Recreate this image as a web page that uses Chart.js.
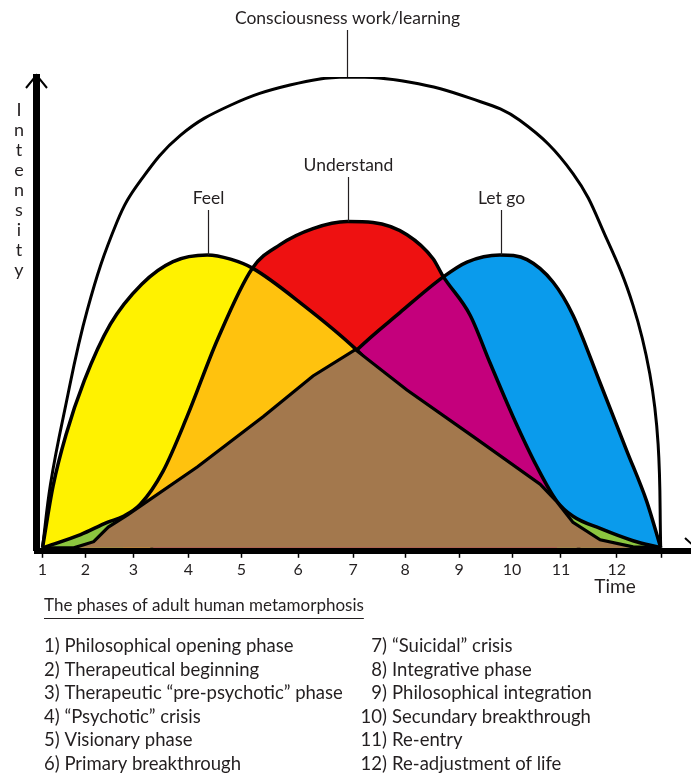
<!DOCTYPE html>
<html>
<head>
<meta charset="utf-8">
<script src="https://cdn.jsdelivr.net/npm/chart.js@4"></script>
<style>
  html, body { margin: 0; padding: 0; background: #fff; }
  canvas { display: block; }
</style>
</head>
<body>
<canvas id="chart" width="691" height="774"></canvas>
<script>
// x ticks (time phases) and where they sit on the time axis
const xTickPos = [1, 1.823, 2.741, 3.793, 4.807, 5.898, 6.950, 7.945, 8.978, 9.992, 10.929, 12.0, 12.861];
const xTickLabels = ['1', '2', '3', '4', '5', '6', '7', '8', '9', '10', '11', '12', ''];

// outer arch: consciousness work / learning
const archX = [1, 1.153, 1.40, 1.86, 2.43, 2.87, 3.64, 4.60, 5.74, 6.84, 8.04, 9.19, 10.14, 11.16, 11.81, 12.31, 12.63, 12.79, 12.84];
const archY = [0, 13.5, 27.9, 50.6, 69.3, 77.9, 87.6, 94.0, 98.3, 100, 98.9, 95.5, 90.8, 79.5, 65.5, 51.5, 37.0, 22.0, 0];

// "Feel" curve (yellow)
const feelX = [1, 1.2, 1.45, 1.8, 2.3, 2.9, 3.5, 4.16, 4.6, 5.02, 6.0, 6.99, 8.23, 9.38, 10.53, 11.3];
const feelY = [0, 13, 24, 35.5, 47.5, 56, 60.8, 62.2, 61.3, 59.4, 51.5, 42.3, 28, 17, 6, 0];

// "Understand" curve (red)
const understandX = [1, 1.73, 2.24, 2.55, 2.87, 3.31, 3.77, 4.35, 5.02, 5.55, 6.18, 6.84, 7.33, 7.98, 8.48, 8.67, 9.19, 9.57, 10.01, 10.47, 10.85, 11.16, 11.68, 12.31, 12.84];
const understandY = [0, 2.8, 5.4, 6.7, 9.2, 16.3, 27.9, 44.2, 59.4, 64.4, 67.8, 69.3, 69.1, 66.5, 61.4, 57.7, 49.4, 39.3, 27.9, 17.2, 9.9, 6.7, 4.1, 1.5, 0];

// "Let go" curve (blue)
const letGoX = [3.07, 4.02, 5.17, 6.13, 7.03, 7.85, 8.67, 9.13, 9.76, 10.28, 10.78, 11.16, 11.68, 12.19, 12.57, 12.84];
const letGoY = [0, 11.4, 22.1, 31.1, 42.1, 50.0, 57.5, 60.7, 62.2, 61.2, 56.4, 49.4, 35.0, 20.6, 9.9, 0];

// brown base
const baseX = [1, 1.6, 1.98, 2.26, 2.63, 3.97, 5.23, 6.18, 6.99, 7.98, 9.25, 10.53, 10.85, 11.16, 11.68, 12.31, 12.84];
const baseY = [0, 0, 1.3, 4.4, 7.0, 17.2, 27.9, 36.5, 42.1, 33.5, 23.6, 13.5, 9.8, 5.4, 1.7, 0.2, 0];

// green slivers at both ends
const greenLeftX = [1, 1.73, 2.24, 2.55];
const greenLeftY = [0, 2.8, 5.4, 6.7];
const greenRightX = [10.85, 11.16, 11.68, 12.31, 12.84];
const greenRightY = [9.9, 6.7, 4.1, 1.5, 0];

// curve labels
const curveLabels = ['Consciousness work/learning', 'Feel', 'Understand', 'Let go'];
const curveLabelX = [6.84, 4.16, 6.86, 9.78];
const curvePeak = [100, 62.2, 69.3, 62.2];

const legendTitle = 'The phases of adult human metamorphosis';
const phasesLeft = ['1) Philosophical opening phase', '2) Therapeutical beginning', '3) Therapeutic \u201cpre-psychotic\u201d phase',
  '4) \u201cPsychotic\u201d crisis', '5) Visionary phase', '6) Primary breakthrough'];
const phasesRightNum = ['7)', '8)', '9)', '10)', '11)', '12)'];
const phasesRight = ['\u201cSuicidal\u201d crisis', 'Integrative phase', 'Philosophical integration',
  'Secundary breakthrough', 'Re-entry', 'Re-adjustment of life'];

const pts = (xs, ys) => xs.map((v, i) => ({ x: v, y: ys[i] }));

const YELLOW = '#fff200', ORANGE = '#ffc20e', RED = '#ee1111', MAGENTA = '#c4007c',
  BLUE = '#0a9bec', BROWN = '#a3784d', GREEN = '#8cc63f', INK = '#231f20';
const NONE = 'rgba(0,0,0,0)';

function area(data, fill, order) {
  return { data, fill, borderWidth: 0, pointRadius: 0, order, cubicInterpolationMode: 'monotone' };
}
function outline(data, order, width) {
  return { data, fill: false, borderColor: '#000', borderWidth: width, pointRadius: 0, order, cubicInterpolationMode: 'monotone' };
}

const redFill = area(pts(understandX, understandY), 'origin', 20);
redFill.backgroundColor = RED;
const orangeFill = area(pts(feelX, feelY), 'origin', 19);
orangeFill.backgroundColor = ORANGE;
const yellowFill = area(pts(feelX, feelY), { target: 0, above: YELLOW, below: NONE }, 18);
const magentaFill = area(pts(letGoX, letGoY), 'origin', 17);
magentaFill.backgroundColor = MAGENTA;
const blueFill = area(pts(letGoX, letGoY), { target: 0, above: BLUE, below: NONE }, 16);
const greenL = area(pts(greenLeftX, greenLeftY), 'origin', 15);
greenL.backgroundColor = GREEN;
const greenR = area(pts(greenRightX, greenRightY), 'origin', 15);
greenR.backgroundColor = GREEN;

const base = {
  data: pts(baseX, baseY), fill: 'origin', backgroundColor: BROWN, borderColor: '#000',
  borderWidth: 3.2, pointRadius: 0, tension: 0, order: 5
};

const arch = {
  data: pts(archX, archY), fill: false, borderColor: '#000', borderWidth: 3,
  pointRadius: 0, tension: 0.4, order: 2
};

const notes = {
  id: 'notes',
  afterDraw(chart) {
    const { ctx, scales: { x, y } } = chart;
    ctx.save();
    ctx.fillStyle = INK;
    ctx.strokeStyle = INK;
    ctx.textBaseline = 'middle';
    ctx.textAlign = 'center';

    // labels with leader lines
    const textY = [18, 198, 165, 198];
    ctx.font = '17.5px Lato';
    curveLabels.forEach((t, i) => {
      const px = Math.round(x.getPixelForValue(curveLabelX[i])) + 0.5;
      ctx.fillText(t, px, textY[i]);
      ctx.lineWidth = 1.2;
      ctx.beginPath();
      ctx.moveTo(px, textY[i] + 12);
      ctx.lineTo(px, y.getPixelForValue(curvePeak[i]));
      ctx.stroke();
    });

    // y title, stacked letters
    ctx.font = '18px Lato';
    'Intensity'.split('').forEach((ch, i) => ctx.fillText(ch, 19, 110 + i * 20));

    // x title
    ctx.font = '19px Lato';
    ctx.fillText('Time', 615, 587);

    // arrow heads
    ctx.strokeStyle = '#000';
    ctx.lineWidth = 2;
    ctx.beginPath();
    ctx.moveTo(26, 88); ctx.lineTo(36.5, 75); ctx.lineTo(47, 88);
    ctx.stroke();
    ctx.beginPath();
    ctx.moveTo(685, 538); ctx.lineTo(697, 549);
    ctx.stroke();

    // phase list
    ctx.textAlign = 'left';
    ctx.font = '17px Lato';
    ctx.fillText(legendTitle, 44, 606);
    const w = ctx.measureText(legendTitle).width;
    ctx.strokeStyle = INK;
    ctx.lineWidth = 1.2;
    ctx.beginPath();
    ctx.moveTo(44, 618.5); ctx.lineTo(44 + w, 618.5);
    ctx.stroke();

    ctx.font = '18.5px Lato';
    phasesLeft.forEach((t, i) => {
      const ty = 646 + i * 23.6;
      ctx.textAlign = 'left';
      ctx.fillText(t, 44, ty);
      ctx.textAlign = 'right';
      ctx.fillText(phasesRightNum[i], 387, ty);
      ctx.textAlign = 'left';
      ctx.fillText(phasesRight[i], 392, ty);
    });
    ctx.restore();
  }
};

new Chart(document.getElementById('chart'), {
  type: 'line',
  data: {
    datasets: [
      redFill, orangeFill, yellowFill, magentaFill, blueFill, greenL, greenR,
      outline(pts(feelX, feelY), 8, 3.5),
      outline(pts(understandX, understandY), 8, 3.5),
      outline(pts(letGoX, letGoY), 8, 3.5),
      base,
      arch
    ]
  },
  options: {
    responsive: false,
    animation: false,
    devicePixelRatio: 1,
    layout: { padding: { left: 36.5, top: 77, right: 0, bottom: 193 } },
    plugins: { legend: { display: false }, tooltip: { enabled: false } },
    scales: {
      x: {
        type: 'linear', min: 0.885, max: 13.42, z: 1,
        border: { display: true, width: 6, color: '#000' },
        grid: { display: true, drawOnChartArea: false, drawTicks: true, tickLength: 7, tickWidth: 1.5, tickColor: '#000', color: '#000' },
        ticks: {
          autoSkip: false, maxRotation: 0, padding: 2, color: INK,
          font: { family: 'Lato', size: 16 },
          callback: (v, i) => xTickLabels[i]
        },
        afterBuildTicks: (axis) => { axis.ticks = xTickPos.map(v => ({ value: v })); }
      },
      y: {
        type: 'linear', min: -0.64, max: 100, z: 1,
        border: { display: true, width: 7, color: '#000' },
        grid: { display: false, drawTicks: false },
        ticks: { display: false }
      }
    }
  },
  plugins: [notes]
});
</script>
</body>
</html>
